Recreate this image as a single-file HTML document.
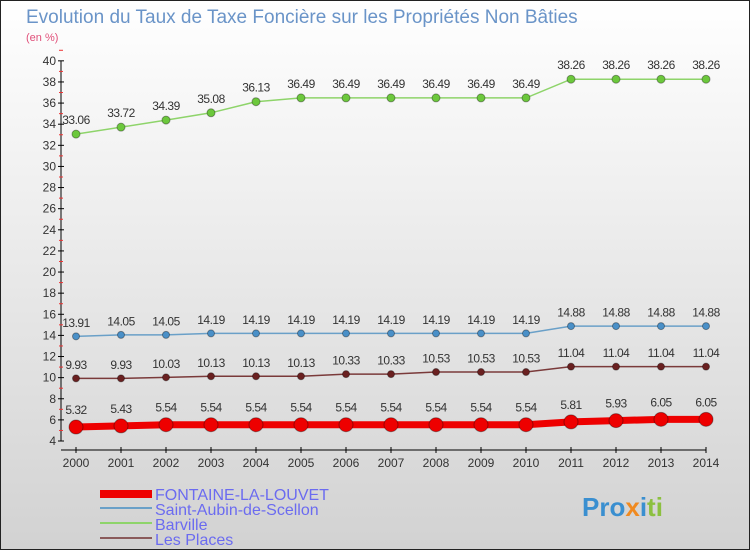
<!DOCTYPE html>
<html><head><meta charset="utf-8"><style>
body{margin:0}
svg{display:block;font-family:"Liberation Sans",sans-serif}
</style></head><body>
<svg width="750" height="550" viewBox="0 0 750 550" id="c">
<defs><linearGradient id="bg" x1="0" y1="0" x2="0" y2="1"><stop offset="0" stop-color="#ffffff"/><stop offset="1" stop-color="#d2d2d2"/></linearGradient></defs>
<rect x="0.5" y="0.5" width="749" height="549" fill="url(#bg)" stroke="#222"/>
<text x="26" y="23" font-size="19" fill="#6a94c8">Evolution du Taux de Taxe Foncière sur les Propriétés Non Bâties</text>
<text x="26" y="41" font-size="11" fill="#e0507a">(en %)</text>
<g id="axes"></g>
<g id="series"></g>
<g id="legend">
<rect x="100" y="490" width="52" height="8" fill="#e00"/>
<text x="155" y="500" font-size="16" fill="#6b6bf0">FONTAINE-LA-LOUVET</text>
<rect x="100" y="507" width="52" height="2" fill="#6aa0c8"/>
<text x="155" y="515" font-size="16" fill="#6b6bf0">Saint-Aubin-de-Scellon</text>
<rect x="100" y="522" width="52" height="2" fill="#8ed46a"/>
<text x="155" y="530" font-size="16" fill="#6b6bf0">Barville</text>
<rect x="100" y="537" width="52" height="2" fill="#8a5a5a"/>
<text x="155" y="545" font-size="16" fill="#6b6bf0">Les Places</text>
</g>
<text x="582" y="516" font-size="26" font-weight="bold"><tspan fill="#3a8fd0">Pro</tspan><tspan fill="#f08a20">x</tspan><tspan fill="#3a8fd0">i</tspan><tspan fill="#8cc040">ti</tspan></text>
</svg>
<script>
const years=[2000,2001,2002,2003,2004,2005,2006,2007,2008,2009,2010,2011,2012,2013,2014];
const fontaine=[5.32,5.43,5.54,5.54,5.54,5.54,5.54,5.54,5.54,5.54,5.54,5.81,5.93,6.05,6.05];
const saintAubin=[13.91,14.05,14.05,14.19,14.19,14.19,14.19,14.19,14.19,14.19,14.19,14.88,14.88,14.88,14.88];
const barville=[33.06,33.72,34.39,35.08,36.13,36.49,36.49,36.49,36.49,36.49,36.49,38.26,38.26,38.26,38.26];
const lesPlaces=[9.93,9.93,10.03,10.13,10.13,10.13,10.33,10.33,10.53,10.53,10.53,11.04,11.04,11.04,11.04];
const yTicks=[4,6,8,10,12,14,16,18,20,22,24,26,28,30,32,34,36,38,40];
const NS="http://www.w3.org/2000/svg";
function xS(i){return 76+i*45;}
function yS(v){return 441-(v-4)*10.56;}
function mk(tag,attrs,parent){const e=document.createElementNS(NS,tag);for(const k in attrs)e.setAttribute(k,attrs[k]);parent.appendChild(e);return e;}
const ax=document.getElementById('axes');
const yAxis=mk('line',{x1:61,y1:yS(40),x2:61,y2:yS(4),stroke:'#000'},ax);


yTicks.forEach(t=>{
  mk('line',{x1:58,x2:64,y1:yS(t),y2:yS(t),stroke:'#000'},ax);
  mk('line',{x1:59,x2:63,y1:yS(t+1),y2:yS(t+1),stroke:'#e33'},ax);
  const tx=mk('text',{x:56,y:yS(t)+4,'font-size':12,'text-anchor':'end',fill:'#333'},ax);
  tx.textContent=t;
  
  
});
const xAxis=mk('line',{x1:61,y1:450,x2:xS(14),y2:450,stroke:'#000'},ax);


years.forEach((y,i)=>{
  mk('line',{x1:xS(i),x2:xS(i),y1:447,y2:453,stroke:'#000'},ax);
  const tx=mk('text',{x:xS(i),y:467,'font-size':12,'text-anchor':'middle',fill:'#333'},ax);
  tx.textContent=y;
  
  
});
const sg=document.getElementById('series');
function draw(vals,name,color,dot,w,r){
  const g=mk('g',{},sg);
  
  
  const pl=mk('polyline',{points:vals.map((v,i)=>xS(i)+','+yS(v)).join(' '),fill:'none',stroke:color,'stroke-width':w},g);
  
  
  vals.forEach((v,i)=>{
    const c=mk('circle',{cx:xS(i),cy:yS(v),r:r,fill:dot,stroke:'rgba(0,0,0,0.35)','stroke-width':1},g);
    
    
    const t=mk('text',{x:xS(i),y:yS(v)-(r+6),'font-size':12,'text-anchor':'middle',fill:'#333','letter-spacing':'-0.5'},g);
    t.textContent=String(v);
    
    
  });
}
draw(barville,'barville','#8ed46a','#6cc83c',1.5,4);
draw(saintAubin,'saint-aubin','#6aa0c8','#4a90c8',1.5,3.5);
draw(lesPlaces,'les-places','#7a3a3a','#6a2020',1.5,3.5);
draw(fontaine,'fontaine','#e00','#e00',7,7);
</script>
</body></html>
